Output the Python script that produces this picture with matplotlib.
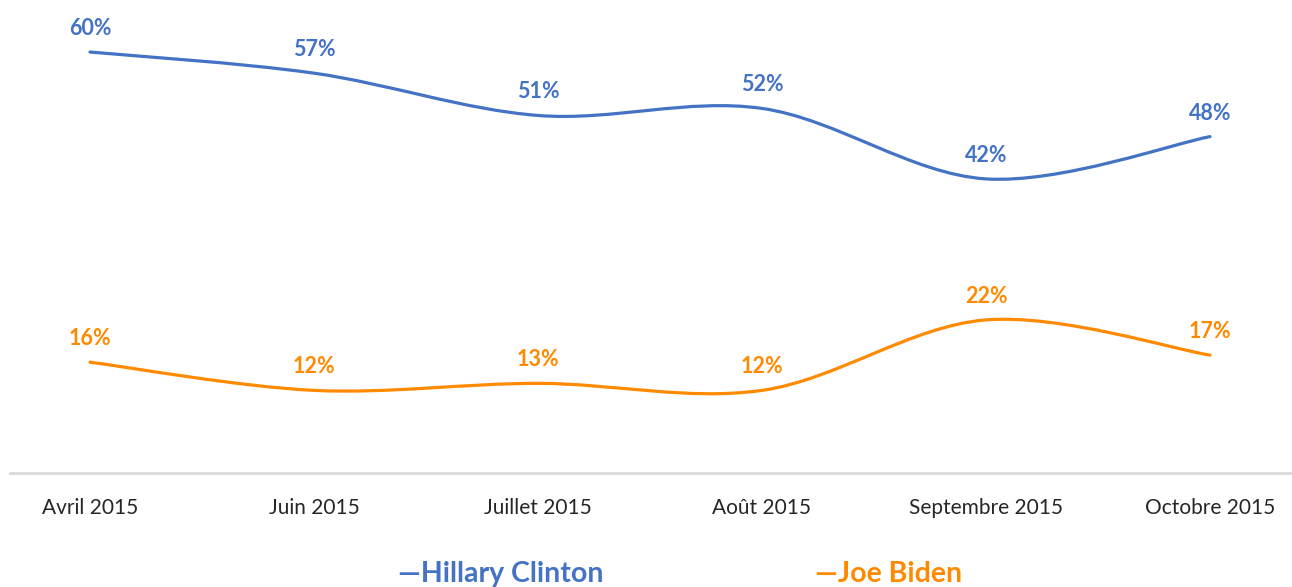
import matplotlib
matplotlib.use("Agg")
import matplotlib.pyplot as plt
import numpy as np
from matplotlib.path import Path
from matplotlib.patches import PathPatch

plt.rcParams["font.family"] = ["Lato", "DejaVu Sans"]

months = ["Avril 2015", "Juin 2015", "Juillet 2015", "Août 2015",
          "Septembre 2015", "Octobre 2015"]
clinton = [60, 57, 51, 52, 42, 48]
biden = [16, 12, 13, 12, 22, 17]

BLUE = "#4472C4"
ORANGE = "#FF8A00"


def smooth_path(xs, ys):
    # Catmull-Rom style bezier, like Excel's smoothed line
    pts = np.column_stack([xs, ys]).astype(float)
    ext = np.vstack([pts[0], pts, pts[-1]])
    verts = [pts[0]]
    codes = [Path.MOVETO]
    for i in range(len(pts) - 1):
        p0, p1, p2, p3 = ext[i], ext[i + 1], ext[i + 2], ext[i + 3]
        c1 = p1 + (p2 - p0) / 6.0
        c2 = p2 - (p3 - p1) / 6.0
        verts += [c1, c2, p2]
        codes += [Path.CURVE4] * 3
    return Path(verts, codes)


fig = plt.figure(figsize=(12.92, 5.87), dpi=100)
ax = fig.add_axes([10 / 1292, (587 - 473) / 587, 1 - 10 / 1292, 473 / 587])

x = np.arange(len(months))
for vals, col in [(clinton, BLUE), (biden, ORANGE)]:
    patch = PathPatch(smooth_path(x, vals), fill=False, edgecolor=col,
                      linewidth=2.3, capstyle="round")
    ax.add_patch(patch)
    for xi, v in zip(x, vals):
        ax.annotate(f"{v}%", (xi, v), xytext=(0, 17), textcoords="offset points",
                    ha="center", va="center", color=col, fontsize=15.5,
                    fontweight="bold")

ax.set_xlim(-80 / 224, 5 + 82 / 224)
ax.set_ylim(0.28, 67.38)
ax.set_xticks(x)
ax.set_xticklabels(months, fontsize=15, color="#262626")
ax.tick_params(axis="x", length=0, pad=18)
ax.set_yticks([])
for s in ["top", "right", "left"]:
    ax.spines[s].set_visible(False)
ax.spines["bottom"].set_color("#D9D9D9")
ax.spines["bottom"].set_linewidth(2)

fig.text(398 / 1292, 13 / 587, "—Hillary Clinton", color=BLUE, fontsize=20.5,
         fontweight="bold", ha="left", va="center")
fig.text(815 / 1292, 13 / 587, "—Joe Biden", color=ORANGE, fontsize=20.5,
         fontweight="bold", ha="left", va="center")

fig.savefig("out.png", dpi=100, facecolor="white")
